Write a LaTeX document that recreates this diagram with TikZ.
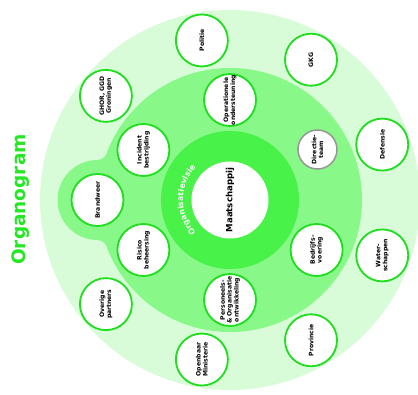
\documentclass[tikz,border=0pt]{standalone}
\usepackage{fontspec}
\usetikzlibrary{decorations.text}
\newfontfamily\dvs{DejaVu Sans}
\definecolor{lightg}{RGB}{216,252,216}
\definecolor{medg}{RGB}{136,248,136}
\definecolor{darkg}{RGB}{72,242,72}
\definecolor{ringg}{RGB}{30,222,30}
\definecolor{titleg}{RGB}{36,232,36}
\definecolor{greyb}{RGB}{150,150,150}
\tikzset{
  unit/.style={circle, draw=ringg, line width=1.8pt, fill=white, minimum size=52pt,
    inner sep=0pt, align=center, rotate=90,
    font=\dvs\bfseries\fontsize{6.1}{6.9}\selectfont},
  dirunit/.style={unit, draw=greyb, line width=1.5pt, minimum size=39pt},
}
\begin{document}
\begin{tikzpicture}[x=1pt,y=1pt]
\useasboundingbox (0,0) rectangle (418,394);
\clip (0,0) rectangle (418,394);
\coordinate (C) at (230,194);
\coordinate (C2) at (97.5,194);
% background rings
\fill[lightg] (C) circle (190);
\fill[medg] (C) circle (132);
\fill[medg] (C2) circle (40);
\fill[medg] (C2) -- (97.2,234) -- (97.1,244) -- (106.5,240.5) -- (C) -- cycle;
\fill[medg] (C2) -- (97.2,154) -- (97.1,144) -- (106.5,147.5) -- (C) -- cycle;
\fill[lightg] (97.1,244) circle (10);
\fill[lightg] (97.1,144) circle (10);
\fill[darkg] (C) circle (69);
% centre
\node[circle, fill=white, minimum size=77pt, inner sep=0pt, rotate=90,
  font=\dvs\bfseries\fontsize{8.6}{10}\selectfont] (maat) at (C) {Maatschappij};
\path[decorate, decoration={text along path,
  text={|\dvs\bfseries\fontsize{7.8}{8}\selectfont\color{white}|Organisatievisie},
  text align=center}]
  ([shift={(228:47)}]C) arc[start angle=228, end angle=132, radius=47];
% title
\node[rotate=90, text=titleg, font=\dvs\bfseries\fontsize{18.5}{18.5}\selectfont] (title) at (20.5,194.5) {Organogram};
% inner units
\node[unit] (oper) at ([shift={(90:100)}]C) {Operationele\\ondersteuning};
\node[unit] (inc) at ([shift={(150:100)}]C) {Incident\\bestrijding};
\node[unit] (ris) at ([shift={(210:100)}]C) {Risico\\beheersing};
\node[unit] (pers) at ([shift={(270:100)}]C) {Personeels-\\\& Organisatie\\ontwikkeling};
\node[unit] (bedr) at ([shift={(330:100)}]C) {Bedrijfs-\\voering};
\node[dirunit] (dir) at ([shift={(30:101)}]C) {Directie-\\team};
\node[unit] (brand) at (C2) {Brandweer};
% outer partners
\node[unit] (def) at ([shift={(20:162)}]C) {Defensie};
\node[unit] (gkg) at ([shift={(60:162)}]C) {GKG};
\node[unit] (pol) at ([shift={(100:162)}]C) {Politie};
\node[unit] (ghor) at ([shift={(140:162)}]C) {GHOR, GGD\\Groningen};
\node[unit] (over) at ([shift={(220:162)}]C) {Overige\\partners};
\node[unit] (om) at ([shift={(260:162)}]C) {Openbaar\\Ministerie};
\node[unit] (prov) at ([shift={(300:162)}]C) {Provincie};
\node[unit] (wat) at ([shift={(340:162)}]C) {Water-\\schappen};
\end{tikzpicture}
\end{document}
